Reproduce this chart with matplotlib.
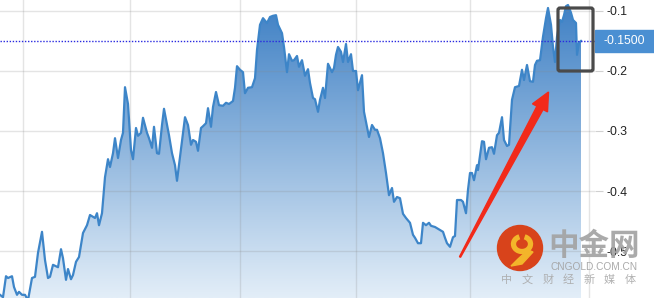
import numpy as np
import matplotlib
matplotlib.use("Agg")
import matplotlib.pyplot as plt
from matplotlib.colors import LinearSegmentedColormap
from matplotlib.patches import Polygon, Rectangle, FancyBboxPatch, Circle, Arc

# 时间位置与数值
t = [0, 3, 6, 8, 12, 14, 17, 19, 22, 25, 28, 32, 35, 38, 42, 45, 48, 50, 53, 58,
     61, 63, 66, 68, 71, 73, 76, 79, 83, 87, 90, 93, 95, 97, 99, 102, 105, 108, 110, 113,
     115, 118, 121, 123, 125, 128, 131, 133, 136, 138, 141, 143, 147, 149, 152, 154, 157, 159, 162, 164,
     167, 169, 172, 175, 177, 180, 183, 185, 188, 191, 193, 196, 198, 201, 203, 206, 208, 211, 213, 216,
     219, 223, 226, 229, 233, 235, 237, 240, 243, 245, 248, 252, 255, 257, 260, 263, 267, 270, 273, 276,
     278, 282, 284, 287, 289, 292, 294, 297, 299, 302, 305, 308, 310, 313, 315, 318, 320, 323, 325, 328,
     332, 334, 336, 338, 341, 343, 346, 348, 351, 353, 356, 358, 362, 364, 367, 369, 372, 375, 377, 380,
     383, 386, 389, 392, 394, 397, 400, 403, 406, 410, 413, 415, 418, 421, 423, 426, 429, 431, 435, 440,
     443, 445, 447, 450, 453, 455, 457, 461, 463, 466, 468, 470, 472, 474, 477, 478, 482, 484, 486, 489,
     492, 494, 497, 499, 502, 504, 507, 509, 512, 515, 519, 522, 524, 527, 530, 533, 535, 537, 540, 543,
     546, 548, 551, 553, 555, 557, 560, 562, 564, 566, 568, 571, 573, 576, 577, 579, 581]
vals = [-0.573, -0.577, -0.542, -0.545, -0.542, -0.560, -0.573, -0.568, -0.573, -0.573, -0.582, -0.545, -0.543, -0.503, -0.468, -0.515, -0.545, -0.543, -0.523, -0.527,
        -0.497, -0.512, -0.548, -0.530, -0.547, -0.540, -0.518, -0.510, -0.470, -0.457, -0.440, -0.443, -0.445, -0.437, -0.457, -0.437, -0.377, -0.347, -0.360, -0.337,
        -0.312, -0.345, -0.315, -0.303, -0.227, -0.255, -0.332, -0.347, -0.295, -0.308, -0.303, -0.278, -0.303, -0.312, -0.328, -0.293, -0.337, -0.338, -0.290, -0.263,
        -0.290, -0.307, -0.337, -0.357, -0.383, -0.343, -0.303, -0.277, -0.290, -0.323, -0.315, -0.318, -0.333, -0.295, -0.292, -0.287, -0.262, -0.293, -0.260, -0.235,
        -0.257, -0.258, -0.253, -0.255, -0.250, -0.228, -0.192, -0.198, -0.202, -0.237, -0.228, -0.227, -0.212, -0.165, -0.123, -0.112, -0.120, -0.110, -0.108, -0.107,
        -0.123, -0.137, -0.160, -0.202, -0.172, -0.183, -0.182, -0.175, -0.193, -0.182, -0.208, -0.197, -0.220, -0.245, -0.247, -0.268, -0.248, -0.228, -0.245, -0.188,
        -0.202, -0.195, -0.173, -0.160, -0.168, -0.185, -0.155, -0.185, -0.172, -0.200, -0.200, -0.232, -0.207, -0.268, -0.293, -0.310, -0.290, -0.298, -0.298, -0.312,
        -0.337, -0.370, -0.407, -0.395, -0.418, -0.410, -0.412, -0.438, -0.445, -0.453, -0.473, -0.478, -0.487, -0.487, -0.453, -0.457, -0.453, -0.458, -0.460, -0.465,
        -0.468, -0.478, -0.487, -0.493, -0.477, -0.475, -0.415, -0.415, -0.418, -0.437, -0.398, -0.370, -0.370, -0.382, -0.357, -0.365, -0.317, -0.318, -0.347, -0.328,
        -0.327, -0.338, -0.307, -0.303, -0.277, -0.315, -0.325, -0.323, -0.248, -0.227, -0.225, -0.198, -0.215, -0.190, -0.217, -0.218, -0.190, -0.183, -0.182, -0.143,
        -0.112, -0.095, -0.123, -0.160, -0.185, -0.143, -0.115, -0.118, -0.107, -0.092, -0.090, -0.103, -0.115, -0.120, -0.173, -0.153, -0.150]

y_ticks = [-0.1, -0.2, -0.3, -0.4, -0.5]
y_labels = ["-0.1", "-0.2", "-0.3", "-0.4", "-0.5"]
x_grid = [23, 130, 240, 356, 470, 589]
last_value = -0.15

ylo, yhi = -0.5783, -0.0817

fig = plt.figure(figsize=(6.54, 2.98), dpi=100)
ax = fig.add_axes([0, 0, 595 / 654, 1])
ax.set_xlim(0, 595)
ax.set_ylim(ylo, yhi)

# 渐变填充
cmap = LinearSegmentedColormap.from_list("fill", ["#3d7fc4", "#e3eef8"])
grad = np.linspace(0, 1, 256).reshape(-1, 1)
im = ax.imshow(grad, extent=[0, 595, ylo, yhi], aspect="auto", cmap=cmap,
               origin="upper", zorder=1)
verts = [(t[0], ylo - 0.1)] + list(zip(t, vals)) + [(t[-1], ylo - 0.1)]
clip = Polygon(verts, closed=True, facecolor="none", edgecolor="none")
ax.add_patch(clip)
im.set_clip_path(clip)

ax.plot(t, vals, color="#3d85c8", lw=1.6, zorder=3, solid_joinstyle="round")
ax.axhline(last_value, color="#2a2ae0", ls=(0, (1, 1.2)), lw=1.0, zorder=4)

ax.set_xticks(x_grid)
ax.set_xticklabels([])
ax.set_yticks(y_ticks)
ax.set_yticklabels(y_labels)
ax.yaxis.tick_right()
ax.tick_params(axis="x", length=0)
ax.tick_params(axis="y", length=6, color="#d0d0d0", pad=2, labelsize=8.8,
               labelcolor="#222222")
for lab in ax.get_yticklabels():
    lab.set_family("Liberation Sans")
ax.set_axisbelow(False)
ax.grid(True, color="#888888", alpha=0.22, lw=1.0)
for s in ax.spines.values():
    s.set_visible(False)

# 覆盖层（像素坐标）
ov = fig.add_axes([0, 0, 1, 1])
ov.set_xlim(0, 654)
ov.set_ylim(298, 0)
ov.axis("off")
ov.patch.set_alpha(0)

ov.add_patch(Rectangle((595, 30), 59, 22, color="#4a8fd2", zorder=5))
ov.text(624.5, 41.5, "-0.1500", color="white", fontsize=8.8, ha="center",
        va="center", family="Liberation Sans", zorder=6)

ov.add_patch(FancyBboxPatch((558, 8), 35, 63, boxstyle="round,pad=0,rounding_size=2",
                            fill=False, ec="#4a4a4a", lw=2.3, zorder=6))

# 红色箭头
tail = np.array([460.0, 257.0])
tip = np.array([548.5, 92.0])
u = (tip - tail) / np.linalg.norm(tip - tail)
p = np.array([u[1], -u[0]])
hl, hw, ws, wt = 18, 17, 7, 1.2
base = tip - u * hl
arrow_pts = [tail + p * wt / 2, base + p * ws / 2, base + p * hw / 2, tip,
             base - p * hw / 2, base - p * ws / 2, tail - p * wt / 2]
ov.add_patch(Polygon(arrow_pts, closed=True, color="#f22a1a", zorder=7))

# 水印
ov.add_patch(Circle((520, 248), 22.5, color="#d8431b", zorder=8))
ov.add_patch(Arc((522, 244), 17, 15, theta1=-70, theta2=250, lw=3.8,
                 color="#f3b52a", zorder=9))
ov.add_patch(Polygon([(528, 250), (533, 252), (522, 264), (511, 266), (518, 259)],
                     closed=True, color="#f3b52a", zorder=9))
ov.text(594, 246, "中金网", fontsize=22, color="#a3a3a3", fontweight="bold",
        ha="center", va="center", family="Noto Sans CJK SC", alpha=0.92, zorder=8)
ov.text(594, 267, "CNGOLD.COM.CN", fontsize=7.3, color="#a3a3a3", ha="center",
        va="center", family="Liberation Sans", alpha=0.92, zorder=8)
for i, ch in enumerate("中文财经新媒体"):
    ov.text(507 + i * 20.5, 280, ch, fontsize=8, color="#ababab", ha="center",
            va="center", family="Noto Sans CJK SC", alpha=0.92, zorder=8)

fig.savefig("out.png", dpi=100)
